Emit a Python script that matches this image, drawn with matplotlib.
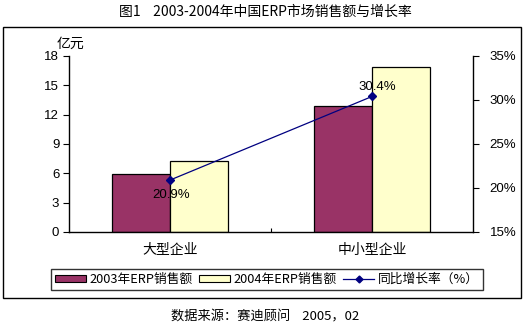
import numpy as np
import matplotlib.pyplot as plt
from matplotlib.patches import Rectangle
from matplotlib.lines import Line2D

plt.rcParams['font.family'] = ['Noto Sans CJK SC', 'DejaVu Sans']

# Sales (100M yuan) and year-over-year growth
categories = ["大型企业", "中小型企业"]
sales_2003 = [5.9, 12.9]
sales_2004 = [7.3, 16.85]
growth = [20.9, 30.4]

sales_ticks = [0, 3, 6, 9, 12, 15, 18]
growth_ticks = [15, 20, 25, 30, 35]

fig = plt.figure(figsize=(5.3, 3.24), dpi=100)
fig.patch.set_facecolor("white")

# outer chart frame
fig.add_artist(Rectangle((3 / 530, 1 - 298 / 324), 518 / 530, 271 / 324,
                         transform=fig.transFigure, fill=False,
                         edgecolor="black", linewidth=1.0))

ax = fig.add_axes([69 / 530, 1 - 232 / 324, 404 / 530, 176 / 324])
x = np.arange(len(categories))
w = 1 / 3.5

ax.bar(x - w / 2, sales_2003, w, color="#993366", edgecolor="black",
       linewidth=0.9, label="2003年ERP销售额")
ax.bar(x + w / 2, sales_2004, w, color="#FFFFCC", edgecolor="black",
       linewidth=0.9, label="2004年ERP销售额")

ax.set_xlim(-0.5, 1.5)
ax.set_ylim(0, 18)
ax.set_yticks(sales_ticks)
ax.set_yticklabels([str(t) for t in sales_ticks], fontsize=9.5,
                   family="Liberation Sans")
ax.set_xticks(x)
ax.set_xticklabels(categories, fontsize=10)
ax.tick_params(axis="x", length=0, pad=8)
ax.set_xticks([0.5], minor=True)
ax.tick_params(axis="x", which="minor", direction="in", length=3, width=0.8)
ax.tick_params(axis="y", direction="out", length=4, width=0.8, pad=3)
for s in ["top", "right"]:
    ax.spines[s].set_visible(False)
for s in ["left", "bottom"]:
    ax.spines[s].set_linewidth(1.0)

# growth line on the secondary axis, one point per category
ax2 = ax.twinx()
ax2.set_ylim(15, 35)
ax2.plot(x, growth, color="#000080", linewidth=0.9, marker="D",
         markersize=4, label="同比增长率（%）")
ax2.set_yticks(growth_ticks)
ax2.set_yticklabels([f"{t}%" for t in growth_ticks], fontsize=9.5,
                    family="Liberation Sans")
ax2.tick_params(axis="y", direction="out", length=4, width=0.8, pad=8)
for s in ["top", "left", "bottom"]:
    ax2.spines[s].set_visible(False)
ax2.spines["right"].set_linewidth(1.0)

ax2.annotate(f"{growth[0]}%", (x[0], growth[0]), xytext=(1, -11),
             textcoords="offset points", ha="center", va="center",
             fontsize=9.5, family="Liberation Sans")
ax2.annotate(f"{growth[1]}%", (x[1], growth[1]), xytext=(4, 7),
             textcoords="offset points", ha="center", va="center",
             fontsize=9.5, family="Liberation Sans")

fig.text(70 / 530, 1 - 44 / 324, "亿元", fontsize=10, ha="center", va="center")

handles = [
    Rectangle((0, 0), 1, 1, facecolor="#993366", edgecolor="black", linewidth=0.8),
    Rectangle((0, 0), 1, 1, facecolor="#FFFFCC", edgecolor="black", linewidth=0.8),
    Line2D([], [], color="#000080", linewidth=0.9, marker="D", markersize=3.5),
]
labels = ["2003年ERP销售额", "2004年ERP销售额", "同比增长率（%）"]
leg = fig.legend(handles, labels, loc="center", bbox_to_anchor=(267 / 530, 1 - 279.5 / 324),
                 ncol=3, fontsize=9.2, frameon=True, fancybox=False,
                 handlelength=2.4, handleheight=0.55, handletextpad=0.3,
                 columnspacing=0.5, borderpad=0.3)
leg.get_frame().set_edgecolor("black")
leg.get_frame().set_linewidth(1.0)

fig.text(0.5, 1 - 12 / 324, "图1    2003-2004年中国ERP市场销售额与增长率",
         fontsize=10, ha="center", va="center")
fig.text(0.5, 1 - 317 / 324, "数据来源：赛迪顾问    2005，02",
         fontsize=9.5, ha="center", va="center")

fig.savefig("out.png", dpi=100)
